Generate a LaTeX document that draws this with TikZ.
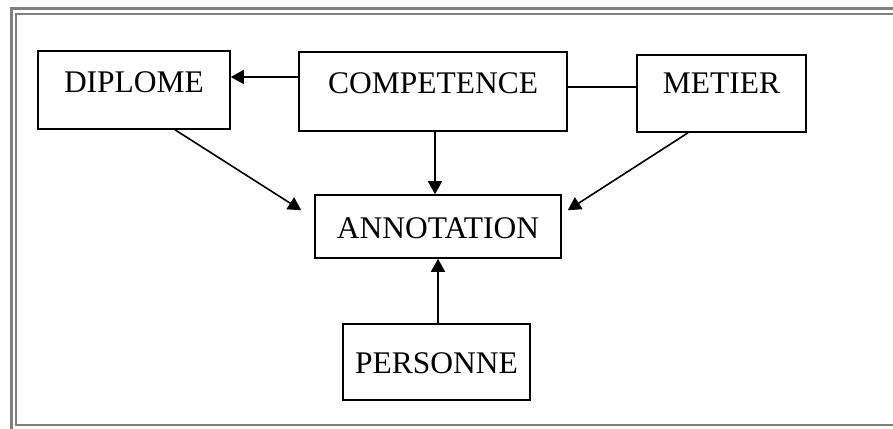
\documentclass[tikz,border=0pt]{standalone}
\usepackage{fontspec}
\setmainfont{Liberation Serif}
\usetikzlibrary{arrows.meta,calc}
\begin{document}
\begin{tikzpicture}[x=1pt,y=-1pt,
  box/.style={draw=black,line width=1.6pt,inner sep=0pt,anchor=base,font=\fontsize{31.5}{36}\selectfont},
  arr/.style={line width=1.6pt,-{Triangle[length=13pt,width=14pt]}},
  link/.style={line width=1.6pt},
  frame/.style={draw=black!50}]
  \useasboundingbox (0,0) rectangle (893,428);
  \clip (0,0) rectangle (893,428);
  % double grey frame
  \draw[frame,line width=3pt] (11.5,8.5) rectangle (910,445);
  \draw[frame,line width=2pt] (16,14.5) rectangle (910,424.5);
  % entity boxes (text height / depth set the box edges around the baseline)
  \node[box,minimum width=192pt,text height=41pt,text depth=37pt] (dip) at (134,92) {DIPLOME};
  \node[box,minimum width=268pt,text height=41pt,text depth=38pt] (comp) at (433,93) {COMPETENCE};
  \node[box,minimum width=169pt,text height=38pt,text depth=39pt] (met) at (721.5,93) {METIER};
  \node[box,minimum width=246pt,text height=43pt,text depth=20pt] (ann) at (438,238) {ANNOTATION};
  \node[box,minimum width=187pt,text height=49pt,text depth=27pt] (pers) at (436.5,373) {PERSONNE};
  % connectors
  \draw[arr] (comp.west |- 0,77) -- (dip.east |- 0,77);
  \draw[link] (comp.east |- 0,87) -- (met.west |- 0,87);
  \draw[arr] (comp.south -| 435,0) -- (ann.north -| 435,0);
  \draw[arr] (dip.south -| 175,0) -- ($(ann.north west)+(-13,16)$);
  \draw[arr] (met.south -| 688,0) -- ($(ann.north east)+(6,16)$);
  \draw[arr] (pers.north -| 438,0) -- (ann.south -| 438,0);
\end{tikzpicture}
\end{document}
